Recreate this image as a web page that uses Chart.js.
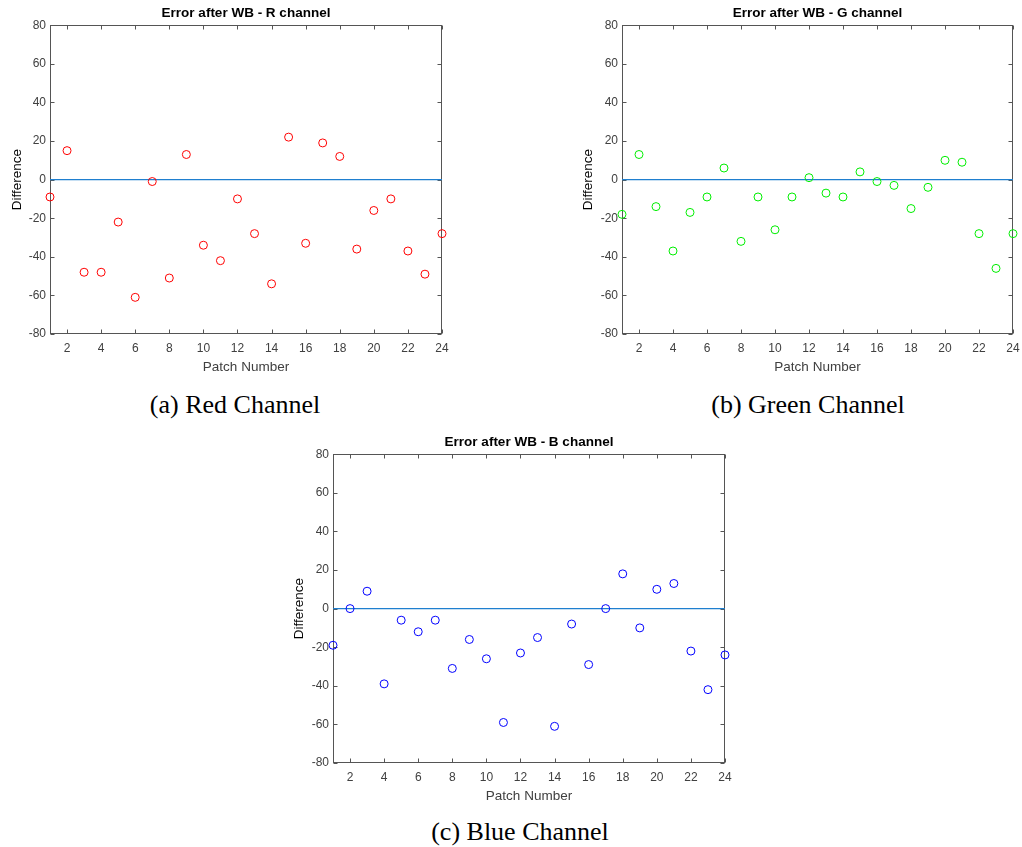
<!DOCTYPE html>
<html lang="en">

<head>
    <meta charset="UTF-8">
    <title>Error after WB</title>
    <script src="https://cdn.jsdelivr.net/npm/chart.js"></script>
    <style>
        body {
            margin: 0;
            background: #ffffff;
            width: 1022px;
            height: 847px;
            overflow: hidden;
            position: relative;
        }

        .box {
            position: absolute;
            width: 460px;
            height: 380px;
        }

        .caption {
            position: absolute;
            transform: translate(-50%, -50%);
            font-family: 'Liberation Serif', 'Times New Roman', serif;
            font-size: 26px;
            color: #000;
            white-space: nowrap;
        }
    </style>
</head>

<body>
    <div class="box" id="boxR" style="left:0px; top:0px;"><canvas id="chartR"></canvas></div>
    <div class="box" id="boxG" style="left:570px; top:0px;"><canvas id="chartG"></canvas></div>
    <div class="box" id="boxB" style="left:280px; top:429px;"><canvas id="chartB"></canvas></div>

    <div class="caption" style="left:235px; top:405px;">(a) Red Channel</div>
    <div class="caption" style="left:808px; top:405px;">(b) Green Channel</div>
    <div class="caption" style="left:520px; top:832px;">(c) Blue Channel</div>

    <script>
        // patch numbers 1..24
        const patches = [1, 2, 3, 4, 5, 6, 7, 8, 9, 10, 11, 12, 13, 14, 15, 16, 17, 18, 19, 20, 21, 22, 23, 24];
        const errR = [-9, 15, -48, -48, -22, -61, -1, -51, 13, -34, -42, -10, -28, -54, 22, -33, 19, 12, -36, -16, -10, -37, -49, -28];
        const errG = [-18, 13, -14, -37, -17, -9, 6, -32, -9, -26, -9, 1, -7, -9, 4, -1, -3, -15, -4, 10, 9, -28, -46, -28];
        const errB = [-19, 0, 9, -39, -6, -12, -6, -31, -16, -26, -59, -23, -15, -61, -8, -29, 0, 18, -10, 10, 13, -22, -42, -24];
        const xTicks = [2, 4, 6, 8, 10, 12, 14, 16, 18, 20, 22, 24];
        const yTicks = [-80, -60, -40, -20, 0, 20, 40, 60, 80];

        const FONT = "'Liberation Sans', Arial, sans-serif";
        const AXIS_GRAY = '#404040';

        // matlab style box with inward ticks on all four sides
        const boxPlugin = {
            id: 'matBox',
            beforeDatasetsDraw(chart) {
                const { ctx, chartArea: a, scales } = chart;
                const L = Math.round(a.left) + 0.5, R = Math.round(a.right) - 0.5;
                const T = Math.round(a.top) + 0.5, B = Math.round(a.bottom) - 0.5;
                ctx.save();
                ctx.strokeStyle = '#555555';
                ctx.lineWidth = 1;
                ctx.strokeRect(L, T, R - L, B - T);
                ctx.beginPath();
                xTicks.forEach(v => {
                    const px = Math.round(scales.x.getPixelForValue(v)) + 0.5;
                    ctx.moveTo(px, B); ctx.lineTo(px, B - 4);
                    ctx.moveTo(px, T); ctx.lineTo(px, T + 4);
                });
                yTicks.forEach(v => {
                    const py = Math.round(scales.y.getPixelForValue(v)) + 0.5;
                    ctx.moveTo(L, py); ctx.lineTo(L + 4, py);
                    ctx.moveTo(R, py); ctx.lineTo(R - 4, py);
                });
                ctx.stroke();
                ctx.restore();
            }
        };

        function makeChart(id, title, values, color, yAxisW, padRight, yTitlePad) {
            const ctx = document.getElementById(id).getContext('2d');
            return new Chart(ctx, {
                data: {
                    datasets: [
                        {
                            type: 'scatter',
                            data: patches.map((p, i) => ({ x: p, y: values[i] })),
                            borderColor: color,
                            backgroundColor: 'rgba(0,0,0,0)',
                            pointStyle: 'circle',
                            pointRadius: 4,
                            pointBorderWidth: 1,
                            clip: false,
                            order: 1
                        },
                        {
                            type: 'line',
                            data: [{ x: patches[0], y: 0 }, { x: patches[patches.length - 1], y: 0 }],
                            borderColor: '#1f7fcf',
                            borderWidth: 1.2,
                            pointRadius: 0,
                            fill: false,
                            order: 2
                        }
                    ]
                },
                options: {
                    responsive: true,
                    maintainAspectRatio: false,
                    animation: false,
                    layout: { padding: { left: 0, right: padRight, top: 0, bottom: 0 } },
                    plugins: {
                        legend: { display: false },
                        tooltip: { enabled: false },
                        title: {
                            display: true,
                            text: title,
                            fullSize: false,
                            color: '#000',
                            font: { family: FONT, size: 13.5, weight: 'bold', lineHeight: 1.2 },
                            padding: { top: 5.5, bottom: 3.5 }
                        }
                    },
                    scales: {
                        x: {
                            type: 'linear',
                            min: 1,
                            max: 24,
                            afterBuildTicks: s => { s.ticks = xTicks.map(v => ({ value: v })); },
                            afterFit: s => { s.height = 46; },
                            grid: { display: false, drawTicks: false },
                            border: { display: false },
                            ticks: {
                                color: AXIS_GRAY,
                                padding: 7,
                                maxRotation: 0,
                                autoSkip: false,
                                font: { family: FONT, size: 12 }
                            },
                            title: {
                                display: true,
                                text: 'Patch Number',
                                color: AXIS_GRAY,
                                font: { family: FONT, size: 13.5 },
                                padding: { top: 0, bottom: 4.5 }
                            }
                        },
                        y: {
                            type: 'linear',
                            min: -80,
                            max: 80,
                            afterBuildTicks: s => { s.ticks = yTicks.map(v => ({ value: v })); },
                            afterFit: s => { s.width = yAxisW; },
                            grid: { display: false, drawTicks: false },
                            border: { display: false },
                            ticks: {
                                color: AXIS_GRAY,
                                padding: 4,
                                autoSkip: false,
                                font: { family: FONT, size: 12 }
                            },
                            title: {
                                display: true,
                                text: 'Difference',
                                color: '#000',
                                font: { family: FONT, size: 13.5 },
                                padding: { top: yTitlePad, bottom: 0 }
                            }
                        }
                    }
                },
                plugins: [boxPlugin]
            });
        }

        makeChart('chartR', 'Error after WB - R channel', errR, '#ff0000', 50, 18, 9);
        makeChart('chartG', 'Error after WB - G channel', errG, '#00ee00', 52, 17, 10.2);
        makeChart('chartB', 'Error after WB - B channel', errB, '#0000ff', 53, 15, 11.2);
    </script>
</body>

</html>
